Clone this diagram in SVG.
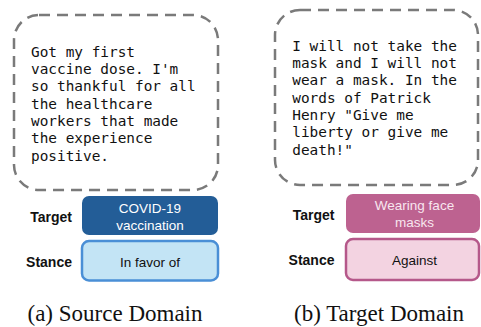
<svg xmlns="http://www.w3.org/2000/svg" width="481" height="327" viewBox="0 0 481 327">
<style>
.bubble{fill:#fff;stroke:#7a7a7a;stroke-width:2.5;stroke-dasharray:11 7}
.mono{font-family:"DejaVu Sans Mono","Liberation Mono",monospace;font-size:14.4px;fill:#111}
.lbl{font-family:"Liberation Sans",Arial,sans-serif;font-weight:bold;font-size:14px;fill:#111;text-anchor:end}
.box{font-family:"Liberation Sans",Arial,sans-serif;font-size:13.5px;text-anchor:middle}
.cap{font-family:"Liberation Serif","Times New Roman",serif;font-size:23px;fill:#111;text-anchor:middle}
</style>
<rect width="481" height="327" fill="#fff"/>
<g id="source-text">
<rect class="bubble" x="14" y="15" width="204" height="175" rx="25"/>
<text class="mono" x="31" y="56.7">Got my first</text>
<text class="mono" x="31" y="74">vaccine dose. I'm</text>
<text class="mono" x="31" y="91.3">so thankful for all</text>
<text class="mono" x="31" y="108.6">the healthcare</text>
<text class="mono" x="31" y="125.9">workers that made</text>
<text class="mono" x="31" y="143.2">the experience</text>
<text class="mono" x="31" y="160.5">positive.</text>
</g>
<g id="source-target">
<text class="lbl" x="72" y="222">Target</text>
<rect x="82" y="196" width="136" height="39" rx="7" fill="#235d97"/>
<text class="box" x="150" y="212.5" fill="#fff">COVID-19</text>
<text class="box" x="150" y="229.8" fill="#fff">vaccination</text>
</g>
<g id="source-stance">
<text class="lbl" x="72" y="267">Stance</text>
<rect x="82" y="241" width="136" height="39.5" rx="7" fill="#c3e4f5" stroke="#4a8fd6" stroke-width="2.5"/>
<text class="box" x="150" y="267.3" fill="#111">In favor of</text>
</g>
<g id="target-text">
<rect class="bubble" x="275" y="10" width="203" height="175" rx="25"/>
<text class="mono" x="292.3" y="50.7">I will not take the</text>
<text class="mono" x="292.3" y="68">mask and I will not</text>
<text class="mono" x="292.3" y="85.3">wear a mask. In the</text>
<text class="mono" x="292.3" y="102.6">words of Patrick</text>
<text class="mono" x="292.3" y="119.9">Henry "Give me</text>
<text class="mono" x="292.3" y="137.2">liberty or give me</text>
<text class="mono" x="292.3" y="154.5">death!"</text>
</g>
<g id="target-target">
<text class="lbl" x="334.5" y="219.5">Target</text>
<rect x="346" y="194" width="134" height="39" rx="7" fill="#bd6290"/>
<text class="box" x="414.5" y="210" fill="#f8e6ef">Wearing face</text>
<text class="box" x="414.5" y="226.7" fill="#f8e6ef">masks</text>
</g>
<g id="target-stance">
<text class="lbl" x="334.5" y="264.5">Stance</text>
<rect x="346" y="239" width="133" height="41" rx="7" fill="#f3d3e1" stroke="#b5588a" stroke-width="2.5"/>
<text class="box" x="414.5" y="265" fill="#111">Against</text>
</g>
<g id="connectors"></g>
<g id="captions">
<text class="cap" x="115" y="321">(a) Source Domain</text>
<text class="cap" x="379" y="321">(b) Target Domain</text>
</g>
</svg>
